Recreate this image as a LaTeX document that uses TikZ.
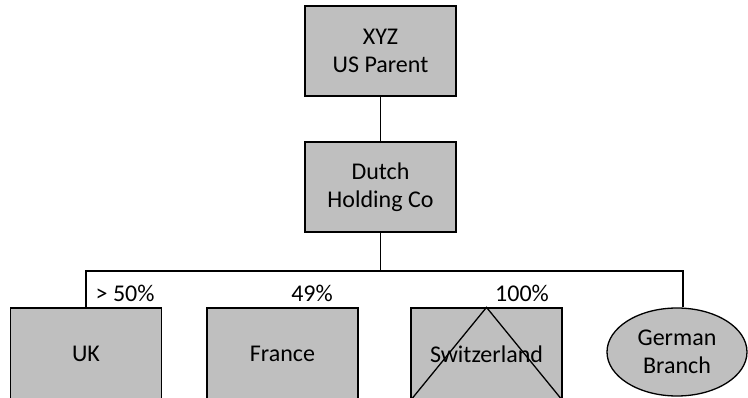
\documentclass[tikz,border=0pt]{standalone}
\usepackage{fontspec}
\setmainfont{Carlito}
\usetikzlibrary{shapes.geometric}
\definecolor{boxgray}{HTML}{BFBFBF}
\begin{document}
\begin{tikzpicture}[x=1pt,y=-1pt,line width=1.3pt,
  txt/.style={font=\fontsize{24}{28}\selectfont},
  box/.style={txt,draw=black,fill=boxgray,minimum width=151pt,minimum height=90pt,inner sep=0pt,align=center},
  lowbox/.style={box,minimum height=92pt},
  oval/.style={txt,draw=black,fill=boxgray,ellipse,minimum width=140pt,minimum height=88pt,inner sep=0pt,align=center},
  pct/.style={txt,inner sep=0pt}]
\useasboundingbox (0,0) rectangle (748,398);
\node[box] (xyz) at (380.5,51) {XYZ\\US Parent};
\node[box] (dutch) at (380.5,187) {Dutch\\Holding Co};
\node[lowbox] (uk) at (86,354) {UK};
\node[lowbox] (fr) at (282.5,354) {France};
\node[lowbox] (sw) at (486.5,354) {Switzerland};
\node[oval] (de) at (677,352) {German\\Branch};
\coordinate (bus) at (380.5,271);
\draw (xyz) -- (dutch);
\draw (dutch) -- (bus);
\draw (uk.north) |- (bus) -| ([xshift=6pt]de.north);
\draw (sw.south west) -- (sw.north) -- (sw.south east);
\node[pct,anchor=west] (p50) at (95,293) {> 50\%};
\node[pct] (p49) at (312,293) {49\%};
\node[pct] (p100) at (522,293) {100\%};
\end{tikzpicture}
\end{document}
